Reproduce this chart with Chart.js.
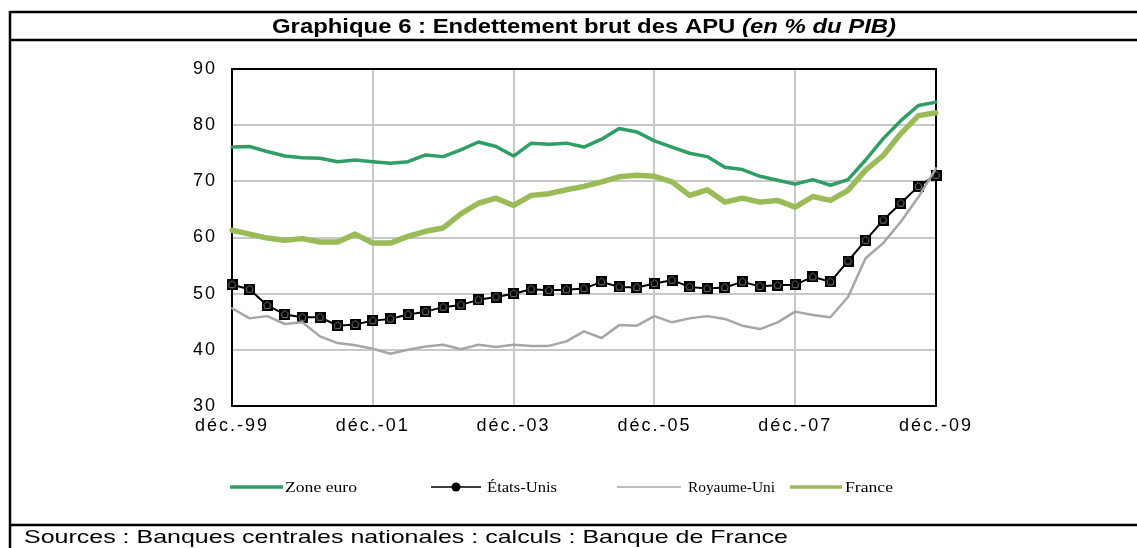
<!DOCTYPE html>
<html>
<head>
<meta charset="utf-8">
<script src="https://cdn.jsdelivr.net/npm/chart.js@4.4.1/dist/chart.umd.min.js"></script>
<style>
    html, body { margin: 0; padding: 0; background: #fff; }
    #chart { display: block; }
</style>
</head>
<body>
<canvas id="chart" width="1137" height="548"></canvas>
<script>
// Quarterly points, déc.-99 to déc.-09
const categories = [
    'déc.-99', 'mars-00', 'juin-00', 'sept.-00', 'déc.-00', 'mars-01', 'juin-01', 'sept.-01',
    'déc.-01', 'mars-02', 'juin-02', 'sept.-02', 'déc.-02', 'mars-03', 'juin-03', 'sept.-03',
    'déc.-03', 'mars-04', 'juin-04', 'sept.-04', 'déc.-04', 'mars-05', 'juin-05', 'sept.-05',
    'déc.-05', 'mars-06', 'juin-06', 'sept.-06', 'déc.-06', 'mars-07', 'juin-07', 'sept.-07',
    'déc.-07', 'mars-08', 'juin-08', 'sept.-08', 'déc.-08', 'mars-09', 'juin-09', 'sept.-09',
    'déc.-09'
];
const xTickLabels = ['déc.-99', 'déc.-01', 'déc.-03', 'déc.-05', 'déc.-07', 'déc.-09'];
const yTicks = [30, 40, 50, 60, 70, 80, 90];

const zoneEuro = [76.1, 76.2, 75.3, 74.5, 74.2, 74.1, 73.5, 73.8, 73.5, 73.2, 73.5, 74.7, 74.4, 75.6, 77.0, 76.2,
    74.5, 76.8, 76.6, 76.8, 76.1, 77.5, 79.4, 78.8, 77.2, 76.1, 75.0, 74.4, 72.5, 72.1, 70.9, 70.2,
    69.5, 70.3, 69.3, 70.3, 73.8, 77.6, 80.8, 83.5, 84.1];
const etatsUnis = [51.6, 50.8, 47.9, 46.3, 45.8, 45.8, 44.3, 44.5, 45.2, 45.5, 46.3, 46.8, 47.6, 48.0, 48.9, 49.4,
    50.0, 50.8, 50.6, 50.7, 50.9, 52.1, 51.2, 51.1, 51.8, 52.4, 51.2, 50.9, 51.1, 52.1, 51.3, 51.5,
    51.6, 53.0, 52.1, 55.8, 59.5, 63.1, 66.1, 69.1, 71.1];
const royaumeUni = [47.4, 45.6, 46.0, 44.6, 44.9, 42.4, 41.2, 40.8, 40.2, 39.3, 40.0, 40.6, 40.9, 40.1, 40.9, 40.5,
    40.9, 40.7, 40.7, 41.5, 43.3, 42.1, 44.4, 44.3, 46.0, 44.9, 45.6, 46.0, 45.5, 44.3, 43.7, 44.9,
    46.8, 46.2, 45.8, 49.4, 56.3, 59.0, 62.8, 67.2, 72.3];
const france = [61.3, 60.6, 59.9, 59.5, 59.8, 59.2, 59.2, 60.6, 59.0, 59.0, 60.2, 61.1, 61.7, 64.2, 66.1, 67.0,
    65.7, 67.5, 67.8, 68.5, 69.1, 69.9, 70.8, 71.1, 70.9, 69.9, 67.5, 68.5, 66.3, 67.0, 66.3, 66.6,
    65.4, 67.3, 66.6, 68.4, 72.0, 74.6, 78.5, 81.7, 82.2];

const seriesNames = ['Zone euro', 'États-Unis', 'Royaume-Uni', 'France'];
const seriesColors = ['#2f9e66', '#000000', '#a6a6a6', '#9bbb59'];

const SANS = "'Liberation Sans', Arial, sans-serif";
const SERIF = "'Liberation Serif', 'Times New Roman', serif";

// Black square marker with a grey outlined shape inside
function makeMarker() {
    const c = document.createElement('canvas');
    c.width = 11;
    c.height = 11;
    const g = c.getContext('2d');
    g.fillStyle = '#000';
    g.fillRect(0, 0, 11, 11);
    g.strokeStyle = '#777';
    g.lineWidth = 1;
    g.beginPath();
    g.moveTo(5.5, 1.5);
    g.lineTo(9, 4.5);
    g.lineTo(8, 8.5);
    g.lineTo(3, 8.5);
    g.lineTo(2, 4.5);
    g.closePath();
    g.stroke();
    return c;
}

// Draw text squeezed / stretched to a given width
function fitText(ctx, text, x, y, width) {
    const w = ctx.measureText(text).width;
    ctx.save();
    ctx.translate(x, y);
    ctx.scale(width / w, 1);
    ctx.fillText(text, 0, 0);
    ctx.restore();
}

const framePlugin = {
    id: 'frame',
    beforeDraw(chart) {
        const ctx = chart.ctx;
        ctx.save();
        ctx.fillStyle = '#fff';
        ctx.fillRect(0, 0, chart.width, chart.height);
        ctx.restore();
        // wider spacing for the axis labels
        ctx.letterSpacing = '2px';
    },
    beforeDatasetsDraw(chart) {
        const ctx = chart.ctx;
        const a = chart.chartArea;
        ctx.letterSpacing = '0px';
        ctx.save();
        ctx.strokeStyle = '#000';
        ctx.lineWidth = 2;
        ctx.strokeRect(a.left, a.top, a.right - a.left, a.bottom - a.top);
        ctx.restore();
    },
    afterDraw(chart) {
        const ctx = chart.ctx;
        ctx.save();
        ctx.letterSpacing = '0px';

        // outer box
        ctx.strokeStyle = '#000';
        ctx.lineWidth = 2.5;
        ctx.beginPath();
        ctx.moveTo(10, 12); ctx.lineTo(1137, 12);
        ctx.moveTo(10, 40); ctx.lineTo(1137, 40);
        ctx.moveTo(10, 525); ctx.lineTo(1137, 525);
        ctx.moveTo(10, 11); ctx.lineTo(10, 548);
        ctx.stroke();

        // title
        ctx.fillStyle = '#000';
        ctx.textBaseline = 'alphabetic';
        const t1 = 'Graphique 6 : Endettement brut des APU ';
        const t2 = '(en % du PIB)';
        ctx.font = 'bold 20px ' + SANS;
        const w1 = ctx.measureText(t1).width;
        ctx.font = 'italic bold 20px ' + SANS;
        const w2 = ctx.measureText(t2).width;
        const k = 624 / (w1 + w2);
        ctx.font = 'bold 20px ' + SANS;
        fitText(ctx, t1, 272, 33, w1 * k);
        ctx.font = 'italic bold 20px ' + SANS;
        fitText(ctx, t2, 272 + w1 * k, 33, w2 * k);

        // sources
        ctx.font = '19px ' + SANS;
        fitText(ctx, 'Sources : Banques centrales nationales : calculs : Banque de France', 24, 543, 764);

        // legend
        const legend = [
            { x1: 230, x2: 283, tx: 285, tw: 72, width: 3.5 },
            { x1: 431, x2: 481, tx: 487, tw: 70, width: 1.5, dot: true },
            { x1: 617, x2: 681, tx: 688, tw: 87, width: 1.5 },
            { x1: 790, x2: 842, tx: 845, tw: 48, width: 3.5 }
        ];
        ctx.font = '15px ' + SERIF;
        legend.forEach((item, i) => {
            ctx.strokeStyle = seriesColors[i];
            ctx.lineWidth = item.width;
            ctx.beginPath();
            ctx.moveTo(item.x1, 487);
            ctx.lineTo(item.x2, 487);
            ctx.stroke();
            if (item.dot) {
                ctx.fillStyle = '#000';
                ctx.beginPath();
                ctx.arc((item.x1 + item.x2) / 2, 487, 4.5, 0, Math.PI * 2);
                ctx.fill();
            }
            ctx.fillStyle = '#000';
            fitText(ctx, seriesNames[i], item.tx, 492, item.tw);
        });
        ctx.restore();
    }
};

const ctx = document.getElementById('chart');
new Chart(ctx, {
    type: 'line',
    data: {
        labels: categories,
        datasets: [{
            label: seriesNames[0],
            data: zoneEuro,
            borderColor: seriesColors[0],
            borderWidth: 3.5,
            pointRadius: 0,
            order: 3
        }, {
            label: seriesNames[1],
            data: etatsUnis,
            borderColor: seriesColors[1],
            borderWidth: 2,
            pointStyle: makeMarker(),
            pointRadius: 5,
            order: 1
        }, {
            label: seriesNames[2],
            data: royaumeUni,
            borderColor: seriesColors[2],
            borderWidth: 2.5,
            pointRadius: 0,
            order: 0
        }, {
            label: seriesNames[3],
            data: france,
            borderColor: seriesColors[3],
            borderWidth: 5.5,
            pointRadius: 0,
            order: 2
        }]
    },
    options: {
        responsive: false,
        animation: false,
        devicePixelRatio: 1,
        layout: {
            padding: { left: 150, right: 201, top: 69, bottom: 100 }
        },
        elements: {
            line: { tension: 0, borderCapStyle: 'round', borderJoinStyle: 'round' }
        },
        plugins: {
            legend: { display: false },
            title: { display: false },
            tooltip: { enabled: false }
        },
        scales: {
            x: {
                afterFit(scale) { scale.height = 42; },
                border: { display: false },
                grid: {
                    drawTicks: false,
                    lineWidth: 2,
                    color: c => xTickLabels.includes(categories[c.index]) ? '#c8c8c8' : 'rgba(0,0,0,0)'
                },
                ticks: {
                    autoSkip: false,
                    maxRotation: 0,
                    padding: 9,
                    color: '#000',
                    font: { family: SANS, size: 18 },
                    callback: function(value, index) {
                        const lab = categories[index];
                        return xTickLabels.includes(lab) ? lab : '';
                    }
                }
            },
            y: {
                min: 30,
                max: 90,
                afterFit(scale) { scale.width = 82; },
                afterBuildTicks(scale) { scale.ticks = yTicks.map(v => ({ value: v })); },
                border: { display: false },
                grid: {
                    drawTicks: false,
                    lineWidth: 2,
                    color: '#c8c8c8'
                },
                ticks: {
                    padding: 15,
                    color: '#000',
                    font: { family: SANS, size: 18 }
                }
            }
        }
    },
    plugins: [framePlugin]
});
</script>
</body>
</html>
